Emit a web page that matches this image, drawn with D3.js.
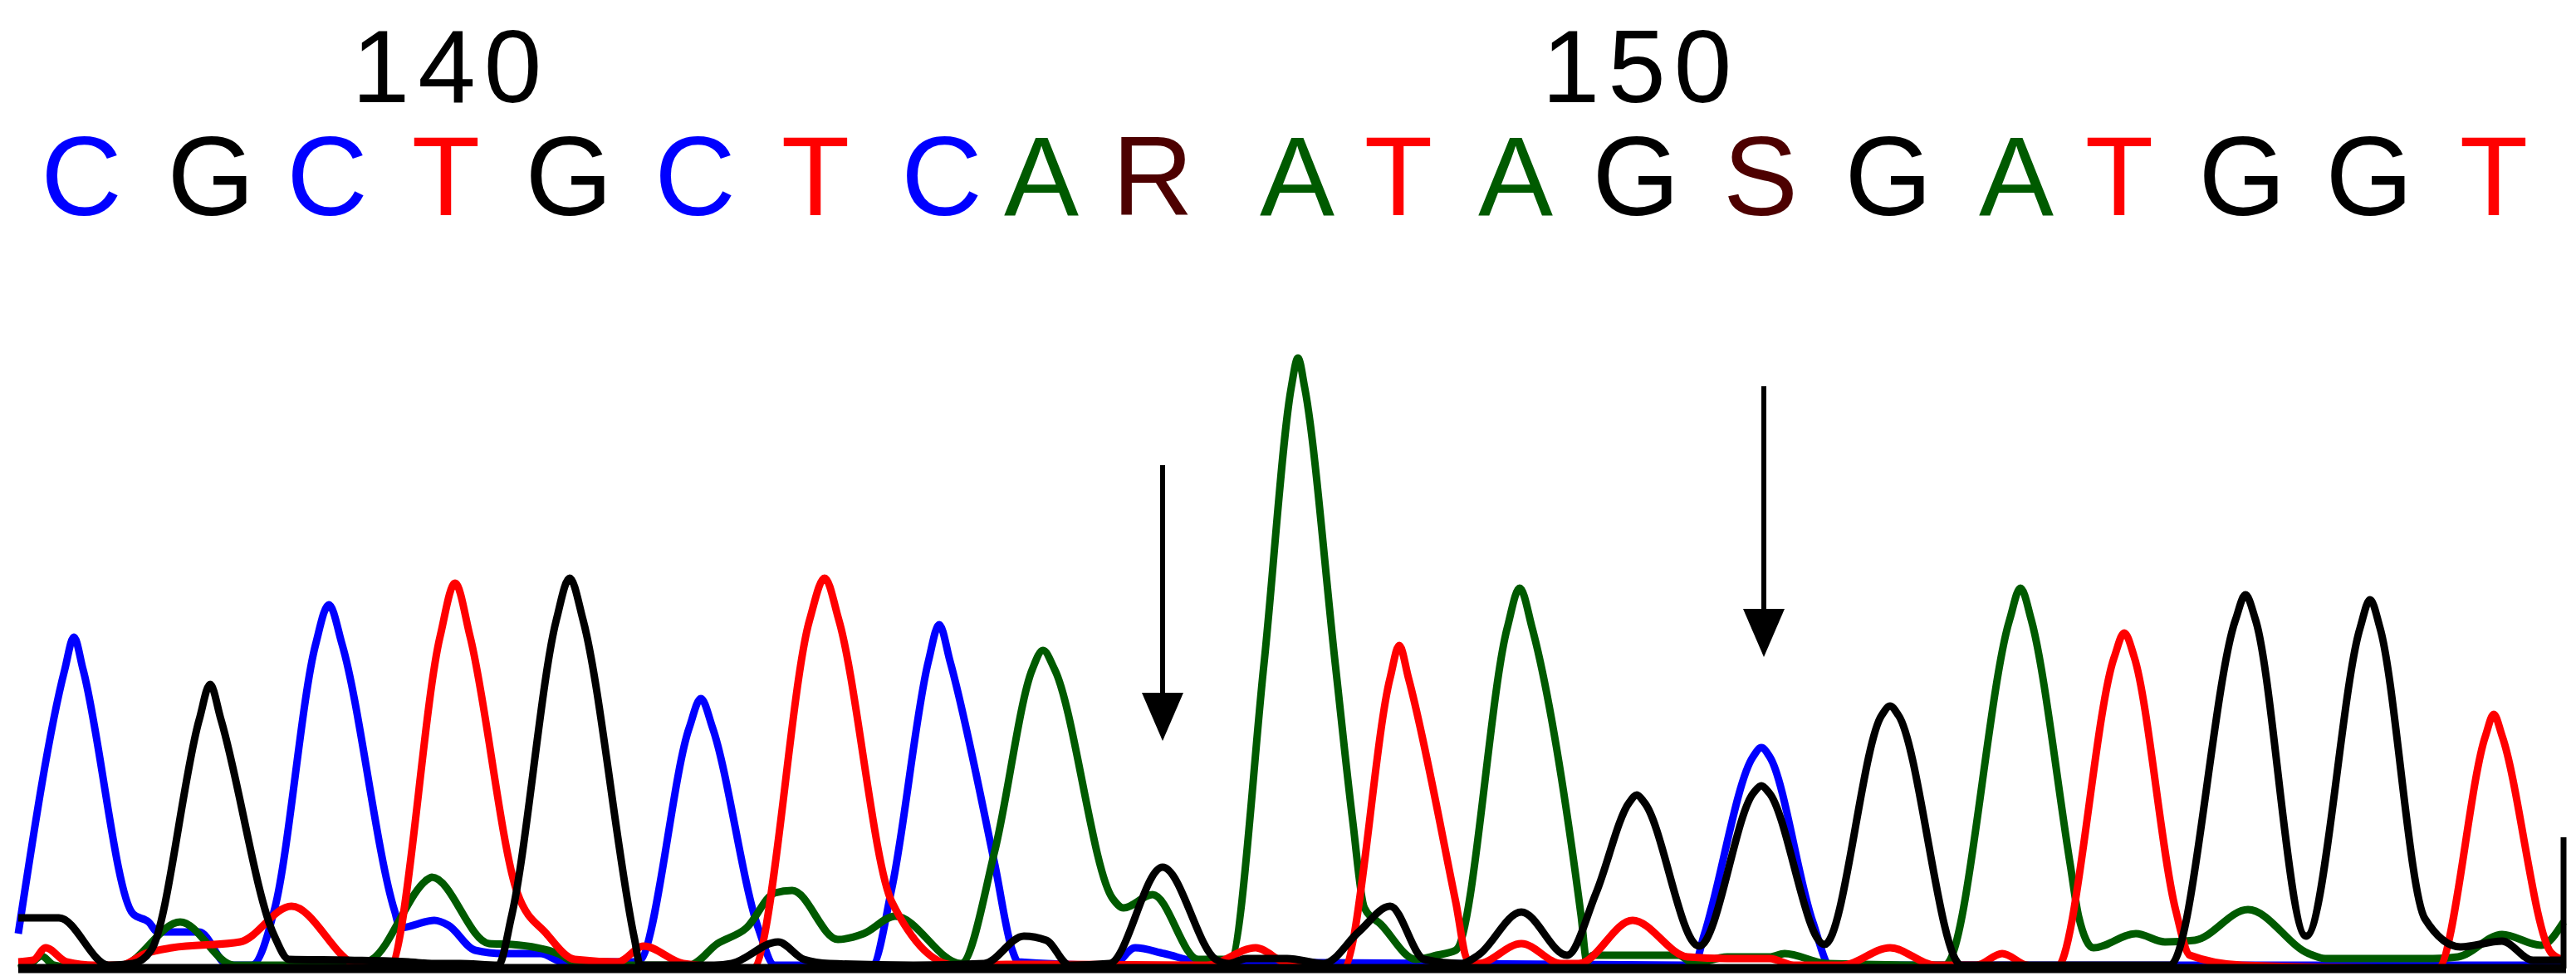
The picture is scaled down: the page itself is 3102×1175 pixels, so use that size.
<!DOCTYPE html>
<html>
<head>
<meta charset="utf-8">
<script src="https://cdn.jsdelivr.net/npm/d3@7"></script>
<style>
  body { margin: 0; background: #fff; }
  svg { display: block; }
</style>
</head>
<body>
<div id="chromatogram"></div>
<script>
// base calls and the scan where each one peaks
const bases = ["C","G","C","T","G","C","T","C","A","R","A","T","A","G","S","G","A","T","G","G","T"];
const baseScans = [98, 254, 394, 537, 685, 837, 982, 1134, 1254, 1388, 1562, 1684, 1825, 1970, 2120, 2274, 2428, 2552, 2700, 2853, 3003];

// position ruler
const tickLabels = ["140", "150"];
const tickBaseIndex = [3, 13];

// trace points: [scan, signal]
const traceA = [[22,0],[35,4],[50,15],[65,4],[100,0],[148,4],[217,56],[282,4],[430,4],[448,11],[516,108],[520,110],[589,30],[616,29],[672,18],[700,4],[830,4],[864,30],[899,49],[933,91],[954,94],[1009,35],[1040,42],[1078,63],[1157,6],[1198,142],[1243,360],[1256,383],[1270,360],[1340,84],[1353,73],[1388,89],[1443,11],[1481,11],[1522,366],[1555,700],[1563,735],[1571,700],[1608,366],[1629,177],[1643,73],[1663,53],[1705,11],[1730,16],[1753,22],[1815,410],[1830,458],[1845,410],[1904,63],[1911,8],[1918,16],[2021,16],[2040,6],[2080,14],[2131,14],[2149,18],[2200,6],[2342,4],[2420,420],[2433,458],[2446,420],[2493,125],[2503,63],[2521,25],[2572,42],[2607,32],[2643,34],[2707,71],[2780,18],[2800,12],[2930,12],[2960,14],[3013,41],[3060,28],[3087,56]];
const traceC = [[22,42],[78,360],[89,399],[100,360],[160,66],[179,56],[190,44],[240,44],[275,4],[303,4],[331,73],[380,390],[396,438],[412,390],[475,70],[482,49],[523,58],[540,52],[572,22],[606,18],[651,18],[678,8],[768,8],[830,290],[844,325],[858,290],[913,49],[933,4],[1050,4],[1074,97],[1118,370],[1131,414],[1144,370],[1198,125],[1219,22],[1226,8],[1340,4],[1367,25],[1402,18],[1446,8],[2040,4],[2052,40],[2111,255],[2121,266],[2131,255],[2183,56],[2204,4],[3087,4]];
const traceG = [[22,61],[71,61],[131,4],[160,6],[182,22],[240,300],[253,342],[266,300],[330,40],[348,11],[420,10],[492,8],[520,6],[554,6],[600,4],[616,63],[670,420],[686,470],[702,420],[764,36],[771,4],[860,4],[881,6],[937,32],[968,11],[999,6],[1100,4],[1185,6],[1233,39],[1260,34],[1288,4],[1336,6],[1400,122],[1464,11],[1480,6],[1501,12],[1550,12],[1594,6],[1636,44],[1674,75],[1715,11],[1760,6],[1780,16],[1832,68],[1887,16],[1922,91],[1962,200],[1971,209],[1980,200],[2046,27],[2112,212],[2121,220],[2130,212],[2197,29],[2266,305],[2276,316],[2286,305],[2362,4],[2613,4],[2692,420],[2704,450],[2716,420],[2777,39],[2842,410],[2854,444],[2866,410],[2920,60],[2963,26],[3013,33],[3050,10],[3087,10]];
const traceT = [[22,8],[40,10],[55,25],[80,8],[114,4],[145,4],[175,18],[207,25],[289,32],[351,75],[430,4],[468,0],[530,400],[548,464],[566,400],[623,91],[658,42],[692,11],[744,8],[775,27],[823,6],[906,0],[975,420],[993,470],[1010,420],[1074,80],[1150,4],[1212,5],[1274,5],[1453,4],[1512,25],[1550,6],[1617,0],[1674,350],[1685,389],[1696,350],[1753,80],[1767,11],[1780,6],[1832,30],[1880,6],[1901,6],[1966,58],[2032,14],[2080,12],[2131,12],[2160,4],[2218,4],[2276,25],[2331,4],[2380,4],[2411,18],[2440,4],[2476,0],[2546,375],[2558,404],[2570,375],[2620,70],[2637,16],[2700,4],[2935,0],[2993,280],[3003,306],[3013,280],[3072,19],[3087,10]];

// arrows marking the double peaks: scan, top and tip signal
const arrowScans = [1400, 2124];
const arrowTop = [606, 701];
const arrowTip = [274, 375];

const cursorScan = 3087;
const cursorTop = 158;

const width = 3102, height = 1175;

const colors = { A: "#005a00", C: "#0000ff", G: "#000000", T: "#ff0000", R: "#4d0000", S: "#4d0000" };

const x = d3.scaleLinear().domain([0, 3102]).range([0, width]);
const y = d3.scaleLinear().domain([0, 800]).range([1166, 366]);

const svg = d3.select("#chromatogram")
  .append("svg")
  .attr("width", width)
  .attr("height", height)
  .style("background", "#fff");

// traces
const line = d3.line()
  .x(d => x(d[0]))
  .y(d => y(d[1]))
  .curve(d3.curveMonotoneX);

const traces = [
  { base: "C", pts: traceC },
  { base: "A", pts: traceA },
  { base: "T", pts: traceT },
  { base: "G", pts: traceG },
];

svg.selectAll("path.trace")
  .data(traces)
  .enter()
  .append("path")
  .attr("class", "trace")
  .attr("d", d => line(d.pts))
  .attr("fill", "none")
  .attr("stroke", d => colors[d.base])
  .attr("stroke-width", 9)
  .attr("stroke-linejoin", "round");

// baseline
const first = d3.min(traces, t => t.pts[0][0]);
svg.append("line")
  .attr("x1", x(first))
  .attr("x2", x(cursorScan) + 3)
  .attr("y1", y(0))
  .attr("y2", y(0))
  .attr("stroke", "#000")
  .attr("stroke-width", 11);

// cursor mark at the right end
svg.append("line")
  .attr("x1", x(cursorScan))
  .attr("x2", x(cursorScan))
  .attr("y1", y(0))
  .attr("y2", y(cursorTop))
  .attr("stroke", "#000")
  .attr("stroke-width", 7);

// arrows
const headLen = 58, headHalf = 25;
arrowScans.forEach((s, i) => {
  const ax = x(s), yTop = y(arrowTop[i]), yTip = y(arrowTip[i]);
  svg.append("line")
    .attr("x1", ax).attr("x2", ax)
    .attr("y1", yTop).attr("y2", yTip - headLen + 2)
    .attr("stroke", "#000")
    .attr("stroke-width", 6);
  svg.append("path")
    .attr("d", `M${ax - headHalf},${yTip - headLen}L${ax + headHalf},${yTip - headLen}L${ax},${yTip}Z`)
    .attr("fill", "#000");
});

// base letters
svg.selectAll("text.base")
  .data(bases)
  .enter()
  .append("text")
  .attr("class", "base")
  .attr("x", (d, i) => x(baseScans[i]))
  .attr("y", 259)
  .attr("text-anchor", "middle")
  .style("font-family", "'Liberation Sans', Arial, sans-serif")
  .style("font-size", "135px")
  .attr("fill", d => colors[d])
  .text(d => d);

// position numbers
svg.selectAll("text.pos")
  .data(tickLabels)
  .enter()
  .append("text")
  .attr("class", "pos")
  .attr("x", (d, i) => x(baseScans[tickBaseIndex[i]]) + 6)
  .attr("y", 123)
  .attr("text-anchor", "middle")
  .style("font-family", "'Liberation Sans', Arial, sans-serif")
  .style("font-size", "125px")
  .style("letter-spacing", "10px")
  .attr("fill", "#000")
  .text(d => d);
</script>
</body>
</html>
